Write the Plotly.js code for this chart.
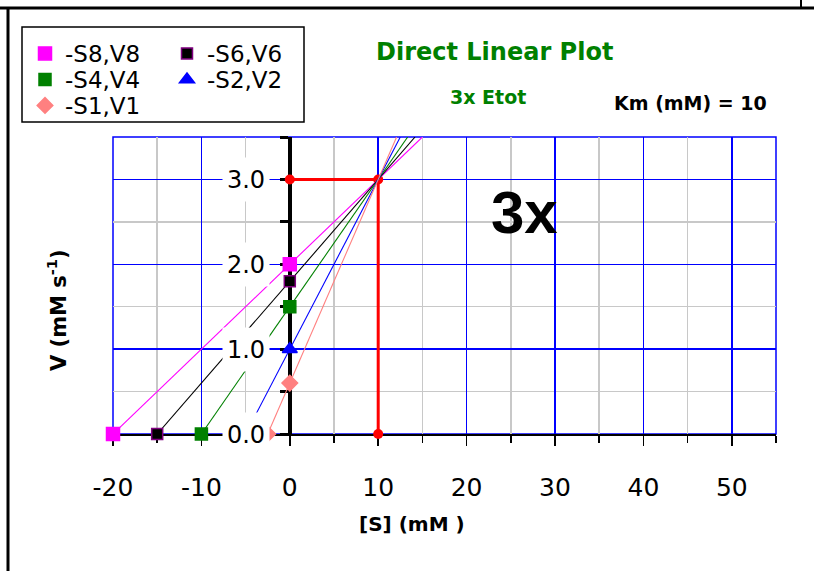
<!DOCTYPE html>
<html><head><meta charset="utf-8">
<script src="https://cdn.plot.ly/plotly-3.0.1.min.js"></script>
<style>html,body{margin:0;padding:0;background:#fff;}#chart{width:814px;height:571px;}</style>
</head><body><div id="chart"></div>
<script>
// ---- data ----
const seriesNames = ['-S8,V8', '-S6,V6', '-S4,V4', '-S2,V2', '-S1,V1'];
const substrate   = [20, 15, 10, 5, 2.5];      // S (mM)
const velocity    = [2.0, 1.8, 1.5, 1.0, 0.6]; // V (mM s-1)
const Km   = 10;
const Vmax = 3.0;
const xTickVals = [-20, -10, 0, 10, 20, 30, 40, 50];
const xTickText = ['-20', '-10', '0', '10', '20', '30', '40', '50'];
const yTickVals = [0, 1, 2, 3];
const yTickText = ['0.0', '1.0', '2.0', '3.0'];

// ---- styles ----
const colors      = ['#ff00ff', '#000000', '#008000', '#0000ff', '#ff8080'];
const lineColors  = ['#ff00ff', '#000000', '#008000', '#0000ff', '#ff8080'];
const symbols     = ['square', 'square', 'square', 'triangle-up', 'diamond'];
const msizes      = [13, 11, 12, 13, 12];
const mlines      = ['#ff00ff', '#800080', '#008000', '#0000ff', '#ff8080'];
const legendIds   = ['legend', 'legend', 'legend2', 'legend2', 'legend3'];
const X_RANGE = [-20, 55];
const Y_RANGE = [0, 3.5];
const yTop = Y_RANGE[1];
const FONT = 'DejaVu Sans';

const traces = [];
// Km / Vmax guide
traces.push({
  x: [0, Km, Km], y: [Vmax, Vmax, 0], mode: 'lines+markers', type: 'scatter',
  line: {color: '#ff0000', width: 3}, marker: {color: '#ff0000', size: 10, symbol: 'circle'},
  showlegend: false, cliponaxis: false, hoverinfo: 'skip'
});
// direct linear plot lines
substrate.forEach((S, i) => {
  const V = velocity[i];
  const xEnd = S * (yTop / V - 1);
  traces.push({
    x: [-S, 0, xEnd], y: [0, V, yTop], mode: 'lines', type: 'scatter',
    line: {color: lineColors[i], width: 1.1}, showlegend: false, cliponaxis: false, hoverinfo: 'skip'
  });
});
// markers
substrate.forEach((S, i) => {
  traces.push({
    x: [-S, 0], y: [0, velocity[i]], mode: 'markers', type: 'scatter', name: seriesNames[i],
    marker: {color: colors[i], size: msizes[i], symbol: symbols[i], line: {color: mlines[i], width: 1.5}},
    legend: legendIds[i], cliponaxis: false, hoverinfo: 'skip'
  });
});

const W = 814, H = 571;
const M = {l: 113, r: 38, t: 137, b: 137};
const PW = W - M.l - M.r, PH = H - M.t - M.b;
const px = v => (v - M.l) / PW;       // pixel x -> paper
const py = v => (H - M.b - v) / PH;   // pixel y -> paper

const annotations = [];
yTickVals.forEach((v, i) => {
  annotations.push({
    x: -5, y: v, xref: 'x', yref: 'y', text: yTickText[i], showarrow: false,
    xanchor: 'center', yanchor: 'middle', width: 46, height: 43, bgcolor: '#ffffff', borderpad: 0,
    font: {family: FONT, size: 24, color: '#000'}
  });
});
const ann = (x, y, text, font, extra) => Object.assign({
  x: x, y: y, xref: 'paper', yref: 'paper', text: text, showarrow: false,
  xanchor: 'center', yanchor: 'middle', font: font
}, extra || {});
annotations.push(
  ann(px(495), py(52), '<b>Direct Linear Plot</b>', {family: FONT, size: 24, color: '#008000'}),
  ann(px(488), py(97), '<b>3x Etot</b>', {family: FONT, size: 19, color: '#008000'}),
  ann(px(612), py(103), '<b>Km (mM) = ' + Km + '</b>', {family: FONT, size: 19, color: '#000'}, {xanchor: 'left'}),
  ann(px(524), py(212), '<b>3x</b>', {family: 'Liberation Sans', size: 60, color: '#000'}),
  ann(px(412), py(524), '<b>[S] (mM )</b>', {family: FONT, size: 20, color: '#000'}),
  ann(px(57), py(310), '<b>V (mM s<sup>-1</sup>)</b>', {family: FONT, size: 21, color: '#000'}, {textangle: -90})
);

const shapes = [
  // plot frame
  {type: 'rect', xref: 'paper', yref: 'paper', x0: 0, x1: 1, y0: 0, y1: 1, layer: 'between',
   line: {color: '#0000ff', width: 1.5}, fillcolor: 'rgba(0,0,0,0)'},
  // legend box
  {type: 'rect', xref: 'paper', yref: 'paper', x0: px(22), x1: px(304), y0: py(122), y1: py(27),
   line: {color: '#000', width: 1.5}, fillcolor: 'rgba(0,0,0,0)'},
  // outer borders
  {type: 'line', xref: 'paper', yref: 'paper', x0: px(0), x1: px(814), y0: py(8), y1: py(8), line: {color: '#000', width: 3}},
  {type: 'line', xref: 'paper', yref: 'paper', x0: px(8), x1: px(8), y0: py(8), y1: py(571), line: {color: '#000', width: 3}},
  {type: 'line', xref: 'paper', yref: 'paper', x0: px(801), x1: px(801), y0: py(0), y1: py(8), line: {color: '#000', width: 2}}
];

const legendBase = {
  orientation: 'h', xanchor: 'left', yanchor: 'top', bgcolor: 'rgba(0,0,0,0)', borderwidth: 0,
  font: {family: FONT, size: 23, color: '#000'}, entrywidth: 97, entrywidthmode: 'pixels', x: px(25)
};

const layout = {
  width: W, height: H, margin: Object.assign({pad: 0, autoexpand: false}, M),
  paper_bgcolor: '#fff', plot_bgcolor: '#fff', hovermode: false, showlegend: true,
  xaxis: {
    range: X_RANGE, tickmode: 'array', tickvals: xTickVals, ticktext: xTickText,
    ticks: 'outside', ticklen: 10, tickwidth: 1.5, tickcolor: '#000',
    showgrid: true, gridcolor: '#0000ff', gridwidth: 1.5, zeroline: false,
    showline: true, linecolor: '#000', linewidth: 2, layer: 'below traces',
    tickfont: {family: FONT, size: 25, color: '#000'}, ticklabelstandoff: 20,
    minor: {tickmode: 'linear', tick0: 0, dtick: 5, ticks: 'outside', ticklen: 7, tickwidth: 1.5, tickcolor: '#000',
            showgrid: true, gridcolor: '#c8c8c8', gridwidth: 1.5}
  },
  xaxis2: {
    overlaying: 'x', anchor: 'y', side: 'bottom', range: X_RANGE, tickmode: 'linear', tick0: 0, dtick: 10,
    ticks: 'inside', ticklen: 9, tickwidth: 1.5, tickcolor: '#000', showticklabels: false,
    showgrid: false, zeroline: false, showline: false,
    minor: {tickmode: 'linear', tick0: 0, dtick: 5, ticks: 'inside', ticklen: 5, tickwidth: 1.5, tickcolor: '#000', showgrid: false}
  },
  yaxis: {
    range: Y_RANGE, anchor: 'free', position: (0 - X_RANGE[0]) / (X_RANGE[1] - X_RANGE[0]),
    tickmode: 'linear', tick0: 0, dtick: 1, ticks: 'outside', ticklen: 8, tickwidth: 3, tickcolor: '#000',
    showticklabels: false, showgrid: true, gridcolor: '#0000ff', gridwidth: 1.5, zeroline: false,
    showline: true, linecolor: '#000', linewidth: 4, layer: 'below traces',
    minor: {tickmode: 'linear', tick0: 0, dtick: 0.5, ticks: 'outside', ticklen: 8, tickwidth: 3, tickcolor: '#000',
            showgrid: true, gridcolor: '#c8c8c8', gridwidth: 1.5}
  },
  yaxis2: {
    overlaying: 'y', anchor: 'free', position: (0 - X_RANGE[0]) / (X_RANGE[1] - X_RANGE[0]), side: 'left',
    range: Y_RANGE, tickmode: 'linear', tick0: 0, dtick: 0.5, ticks: 'inside', ticklen: 8, tickwidth: 3, tickcolor: '#000',
    showticklabels: false, showgrid: false, zeroline: false, showline: false
  },
  legend: Object.assign({y: py(32)}, legendBase),
  legend2: Object.assign({y: py(58)}, legendBase),
  legend3: Object.assign({y: py(84)}, legendBase),
  annotations: annotations,
  shapes: shapes
};

Plotly.newPlot('chart', traces, layout, {staticPlot: true, displayModeBar: false});
</script>
</body></html>
